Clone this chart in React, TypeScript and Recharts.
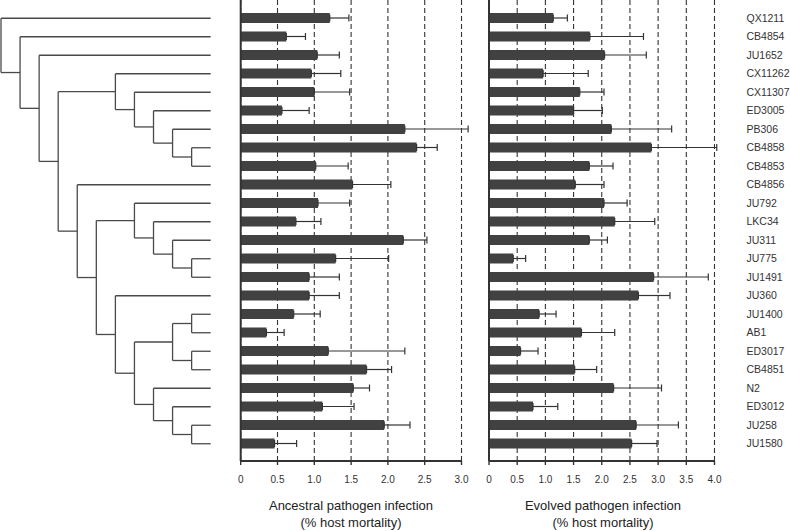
import { Bar, BarChart, CartesianGrid, ErrorBar, ReferenceLine, Scatter, ScatterChart, XAxis, YAxis } from "recharts";

const strains = [
  "QX1211", "CB4854", "JU1652", "CX11262", "CX11307", "ED3005", "PB306", "CB4858",
  "CB4853", "CB4856", "JU792", "LKC34", "JU311", "JU775", "JU1491", "JU360",
  "JU1400", "AB1", "ED3017", "CB4851", "N2", "ED3012", "JU258", "JU1580",
];

const ancestralMean = [
  1.21, 0.62, 1.04, 0.96, 1.0, 0.56, 2.23, 2.39, 1.02, 1.52, 1.05, 0.75,
  2.21, 1.29, 0.93, 0.93, 0.72, 0.35, 1.19, 1.71, 1.53, 1.11, 1.95, 0.46,
];
const ancestralErr = [
  0.26, 0.26, 0.3, 0.4, 0.48, 0.37, 0.86, 0.28, 0.44, 0.52, 0.43, 0.34,
  0.32, 0.72, 0.41, 0.41, 0.36, 0.24, 1.04, 0.34, 0.22, 0.43, 0.35, 0.3,
];

const evolvedMean = [
  1.14, 1.79, 2.05, 0.96, 1.61, 1.5, 2.17, 2.88, 1.78, 1.53, 2.04, 2.23,
  1.78, 0.43, 2.92, 2.65, 0.89, 1.64, 0.56, 1.52, 2.21, 0.78, 2.61, 2.53,
];
const evolvedErr = [
  0.25, 0.95, 0.74, 0.8, 0.43, 0.51, 1.07, 1.16, 0.42, 0.51, 0.41, 0.71,
  0.32, 0.22, 0.97, 0.56, 0.3, 0.59, 0.31, 0.39, 0.85, 0.44, 0.75, 0.45,
];

const ancestralTicks = [0, 0.5, 1, 1.5, 2, 2.5, 3];
const evolvedTicks = [0, 0.5, 1, 1.5, 2, 2.5, 3, 3.5, 4];

// cladogram: internal nodes with their depth level, leaves sit at LEAF_DEPTH
const LEAF_DEPTH = 11;
const treeNodes = [
  { id: "root", depth: 0, children: ["QX1211", "A"] },
  { id: "A", depth: 1, children: ["CB4854", "B"] },
  { id: "B", depth: 2, children: ["JU1652", "C"] },
  { id: "C", depth: 3, children: ["D", "E"] },
  { id: "D", depth: 6, children: ["CX11262", "F"] },
  { id: "F", depth: 7, children: ["CX11307", "G"] },
  { id: "G", depth: 8, children: ["ED3005", "H"] },
  { id: "H", depth: 9, children: ["PB306", "I"] },
  { id: "I", depth: 10, children: ["CB4858", "CB4853"] },
  { id: "E", depth: 4, children: ["CB4856", "J"] },
  { id: "J", depth: 5, children: ["K", "L"] },
  { id: "K", depth: 7, children: ["JU792", "M"] },
  { id: "M", depth: 8, children: ["LKC34", "N"] },
  { id: "N", depth: 9, children: ["JU311", "O"] },
  { id: "O", depth: 10, children: ["JU775", "JU1491"] },
  { id: "L", depth: 6, children: ["JU360", "P"] },
  { id: "P", depth: 7, children: ["Q", "R"] },
  { id: "Q", depth: 9, children: ["S", "T"] },
  { id: "S", depth: 10, children: ["JU1400", "AB1"] },
  { id: "T", depth: 10, children: ["ED3017", "CB4851"] },
  { id: "R", depth: 8, children: ["N2", "U"] },
  { id: "U", depth: 9, children: ["ED3012", "V"] },
  { id: "V", depth: 10, children: ["JU258", "JU1580"] },
];

const INK = "#333";
const BAR = "#414141";
const FONT = "'Liberation Sans', Arial, Helvetica, sans-serif";

const ancestralData = strains.map((strain, i) => ({
  strain,
  value: ancestralMean[i],
  err: [0, ancestralErr[i]],
}));
const evolvedData = strains.map((strain, i) => ({
  strain,
  value: evolvedMean[i],
  err: [0, evolvedErr[i]],
}));

const nodeById = Object.fromEntries(treeNodes.map((n) => [n.id, n]));
const depthOf = (id: string) => (nodeById[id] ? nodeById[id].depth : LEAF_DEPTH);
const rowOf = (id: string): number => {
  const node = nodeById[id];
  if (!node) return strains.indexOf(id);
  const ys = node.children.map(rowOf);
  return (ys[0] + ys[ys.length - 1]) / 2;
};

const treeSegments: { x: number; y: number }[][] = [];
treeNodes.forEach((node) => {
  const ys = node.children.map(rowOf);
  treeSegments.push([
    { x: node.depth, y: ys[0] },
    { x: node.depth, y: ys[ys.length - 1] },
  ]);
  node.children.forEach((c, k) => {
    treeSegments.push([
      { x: node.depth, y: ys[k] },
      { x: depthOf(c), y: ys[k] },
    ]);
  });
});

const fmtTick = (v: number) => (v === 0 ? "0" : v.toFixed(1));

const PAD = { top: 9, bottom: 8 };

const Panel = ({
  data,
  ticks,
  max,
  left,
  width,
  marginLeft,
  marginRight,
  showLabels,
}: {
  data: { strain: string; value: number; err: number[] }[];
  ticks: number[];
  max: number;
  left: number;
  width: number;
  marginLeft: number;
  marginRight: number;
  showLabels: boolean;
}) => (
  <div style={{ position: "absolute", left, top: 0 }}>
    <BarChart
      width={width}
      height={531}
      data={data}
      layout="vertical"
      margin={{ top: 0, right: marginRight, bottom: 40, left: marginLeft }}
    >
      <CartesianGrid vertical horizontal={false} stroke={INK} strokeWidth={1.1} strokeDasharray="5 3" />
      <XAxis
        type="number"
        domain={[0, max]}
        allowDataOverflow
        ticks={ticks}
        interval={0}
        tickFormatter={fmtTick}
        height={30}
        axisLine={{ stroke: INK, strokeWidth: 1.8 }}
        tickLine={{ stroke: INK, strokeWidth: 1.4 }}
        tickSize={4}
        tickMargin={11}
        tick={{ fill: INK, fontSize: 10, fontFamily: FONT }}
      />
      {showLabels ? (
        <YAxis
          type="category"
          dataKey="strain"
          orientation="right"
          width={75.5}
          interval={0}
          padding={PAD}
          axisLine={false}
          tickLine={false}
          tickSize={0}
          tickMargin={32}
          tick={{ fill: INK, fontSize: 10.5, fontFamily: FONT }}
        />
      ) : (
        <YAxis type="category" dataKey="strain" hide padding={PAD} />
      )}
      <ReferenceLine x={0} stroke={INK} strokeWidth={2} />
      <Bar dataKey="value" fill={BAR} barSize={10} isAnimationActive={false}>
        <ErrorBar dataKey="err" direction="x" width={3.5} stroke={INK} strokeWidth={1.2} isAnimationActive={false} />
      </Bar>
    </BarChart>
  </div>
);

const Title = ({ center, lines }: { center: number; lines: string[] }) => (
  <div
    style={{
      position: "absolute",
      left: center - 120,
      top: 498,
      width: 240,
      textAlign: "center",
      fontFamily: FONT,
      fontSize: 13,
      lineHeight: "16.5px",
      color: "#222",
    }}
  >
    {lines.map((l) => (
      <div key={l}>{l}</div>
    ))}
  </div>
);

export default function App() {
  return (
    <div style={{ position: "absolute", left: 0, top: 0, width: 790, height: 531, background: "#fff", overflow: "hidden" }}>
      <div style={{ position: "absolute", left: 0, top: 0 }}>
        <ScatterChart width={220} height={461} margin={{ top: PAD.top, right: 9.3, bottom: PAD.bottom, left: 1 }}>
          <XAxis type="number" dataKey="x" domain={[0, LEAF_DEPTH]} hide />
          <YAxis type="number" dataKey="y" domain={[-0.5, strains.length - 0.5]} reversed hide />
          {treeSegments.map((seg, i) => (
            <Scatter
              key={i}
              data={seg}
              fill="#4a4a4a"
              line={{ stroke: "#4a4a4a", strokeWidth: 1.3 }}
              shape={() => <g />}
              isAnimationActive={false}
            />
          ))}
        </ScatterChart>
      </div>
      <Panel
        data={ancestralData}
        ticks={ancestralTicks}
        max={3}
        left={230}
        width={250}
        marginLeft={10.7}
        marginRight={18.5}
        showLabels={false}
      />
      <Panel
        data={evolvedData}
        ticks={evolvedTicks}
        max={4}
        left={478}
        width={312}
        marginLeft={11}
        marginRight={0}
        showLabels
      />
      <Title center={351} lines={["Ancestral pathogen infection", "(% host mortality)"]} />
      <Title center={603} lines={["Evolved pathogen infection", "(% host mortality)"]} />
    </div>
  );
}
